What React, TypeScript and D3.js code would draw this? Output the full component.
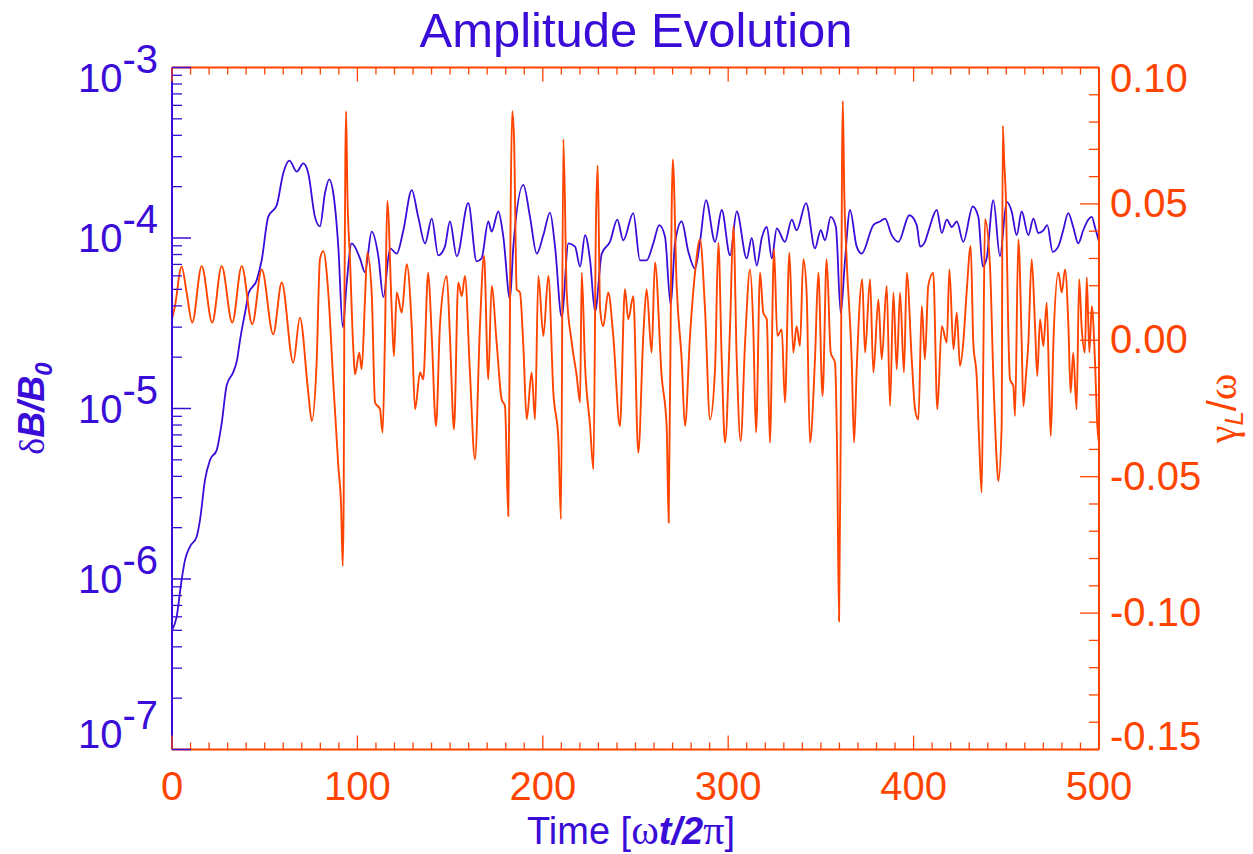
import React, { useEffect, useRef } from 'react';
import * as d3 from 'd3';

// blue curve: dB/B0 (left, log axis)
const timeB = [0, 2.5, 5.2, 7.0, 9.7, 13.3, 15.1, 17.8, 20.5, 24.1,
  26.8, 29.5, 33.1, 35.1, 36.7, 40.3, 41.2, 45.7, 48.4, 51.9,
  56.5, 60.0, 63.3, 67.3, 70.8, 73.5, 77.1, 79.8, 82.5, 84.8,
  87.0, 89.7, 92.1, 94.2, 96.9, 101.4, 104.1, 107.7, 111.3, 114.0,
  117.6, 121.2, 124.8, 129.3, 132.8, 136.5, 140.1, 143.6, 147.2, 149.9,
  153.6, 159.8, 164.3, 167.0, 170.6, 172.4, 176.0, 178.7, 182.3, 184.1,
  189.5, 193.1, 196.7, 200.3, 203.9, 206.6, 210.2, 213.8, 217.4, 220.1,
  222.8, 225.5, 228.2, 231.8, 236.2, 240.2, 243.4, 248.8, 252.4, 256.0,
  259.6, 262.8, 265.9, 269.0, 271.3, 274.9, 278.5, 282.1, 284.8, 288.0,
  292.9, 296.5, 301.0, 304.6, 310.0, 312.7, 315.4, 318.1, 320.8, 323.5,
  326.2, 330.6, 334.3, 336.9, 342.0, 346.8, 349.9, 352.2, 355.3, 358.1,
  360.7, 363.0, 365.7, 369.3, 372.0, 378.3, 381.9, 384.6, 388.2, 391.8,
  397.7, 401.7, 403.5, 406.1, 407.9, 412.5, 415.2, 417.9, 420.6, 423.3,
  426.8, 431.9, 434.9, 437.3, 439.4, 443.0, 446.6, 450.2, 452.9, 455.6,
  458.3, 461.9, 464.6, 467.3, 470.0, 472.1, 475.0, 478.0, 480.7, 483.4,
  486.1, 488.8, 491.5, 494.2, 496.1, 497.8, 500];

const deltaB = [5.0e-7, 6.0e-7, 9.9e-7, 1.29e-6, 1.55e-6, 1.77e-6, 2.22e-6, 3.81e-6, 4.99e-6, 5.7e-6,
  8.2e-6, 1.37e-5, 1.64e-5, 1.93e-5, 2.52e-5, 4.13e-5, 4.72e-5, 5.66e-5, 7.43e-5, 1.33e-4,
  1.56e-4, 2.40e-4, 2.84e-4, 2.45e-4, 2.74e-4, 2.40e-4, 1.33e-4, 1.17e-4, 1.83e-4, 2.21e-4,
  1.83e-4, 8.9e-5, 3.0e-5, 5.4e-5, 9.3e-5, 7.6e-5, 6.3e-5, 1.09e-4, 7.8e-5, 4.5e-5,
  8.7e-5, 8.1e-5, 1.11e-4, 1.91e-4, 1.33e-4, 9.3e-5, 1.30e-4, 7.9e-5, 8.9e-5, 1.25e-4,
  7.8e-5, 1.60e-4, 7.3e-5, 7.6e-5, 1.25e-4, 1.09e-4, 1.43e-4, 1.02e-4, 4.4e-5, 8.9e-5,
  2.05e-4, 1.33e-4, 8.1e-5, 1.04e-4, 1.41e-4, 8.9e-5, 3.45e-5, 9.3e-5, 8.9e-5, 6.8e-5,
  1.04e-4, 7.4e-5, 3.7e-5, 8.1e-5, 9.5e-5, 1.28e-4, 9.7e-5, 1.40e-4, 7.4e-5, 7.4e-5,
  9.3e-5, 1.19e-4, 1.02e-4, 4.05e-5, 9.3e-5, 1.25e-4, 8.3e-5, 6.6e-5, 9.5e-5, 1.67e-4,
  9.5e-5, 1.46e-4, 7.9e-5, 1.43e-4, 7.6e-5, 1.0e-4, 6.9e-5, 1.0e-4, 1.16e-4, 7.6e-5,
  1.14e-4, 9.5e-5, 1.28e-4, 1.11e-4, 1.60e-4, 8.7e-5, 1.11e-4, 9.7e-5, 1.33e-4, 1.16e-4,
  3.62e-5, 7.4e-5, 1.46e-4, 8.9e-5, 8.1e-5, 1.19e-4, 1.25e-4, 1.30e-4, 1.04e-4, 9.5e-5,
  1.36e-4, 1.19e-4, 8.9e-5, 9.5e-5, 1.09e-4, 1.46e-4, 1.07e-4, 1.28e-4, 1.16e-4, 1.25e-4,
  9.5e-5, 1.53e-4, 1.33e-4, 6.8e-5, 7.6e-5, 1.67e-4, 7.8e-5, 1.63e-4, 1.43e-4, 1.04e-4,
  1.43e-4, 1.04e-4, 1.30e-4, 1.07e-4, 1.11e-4, 1.19e-4, 8.3e-5, 8.9e-5, 1.11e-4, 1.40e-4,
  1.16e-4, 9.3e-5, 1.11e-4, 1.28e-4, 1.33e-4, 1.16e-4, 9.5e-5];

// orange curve: gamma_L/omega (right, linear axis)
const timeG = [0, 1.6, 5.2, 7.9, 10.9, 16.0, 21.7, 26.8, 32.5, 37.6,
  43.3, 48.4, 54.6, 59.2, 65.4, 69.0, 73.5, 75.4, 78.0, 79.8,
  81.6, 84.3, 87.0, 89.7, 91.2, 92.1, 92.6, 92.9, 93.5, 93.9,
  94.6, 96.0, 97.8, 98.7, 101.0, 102.3, 104.1, 105.3, 107.7, 109.5,
  112.2, 113.6, 114.9, 116.1, 118.5, 119.7, 121.2, 123.9, 126.6, 129.3,
  131.1, 133.8, 135.5, 138.2, 140.1, 142.4, 144.6, 148.2, 149.9, 152.1,
  154.4, 156.3, 158.0, 160.7, 163.4, 166.1, 168.3, 170.6, 172.4, 175.1,
  177.8, 179.6, 181.4, 182.7, 183.5, 184.5, 185.9, 187.7, 189.5, 191.3,
  194.0, 195.8, 197.6, 200.3, 203.0, 205.7, 208.4, 209.8, 211.1, 212.9,
  215.6, 218.3, 220.1, 221.0, 222.8, 225.5, 227.3, 228.7, 229.6, 230.9,
  232.6, 235.3, 238.0, 241.6, 244.3, 246.1, 248.8, 251.5, 254.2, 256.0,
  258.7, 260.5, 264.1, 266.8, 267.9, 269.5, 270.1, 272.2, 274.9, 276.7,
  279.4, 282.1, 284.8, 287.5, 290.2, 292.9, 294.7, 296.5, 298.3, 301.0,
  302.8, 304.6, 306.7, 309.1, 311.8, 313.5, 315.0, 317.2, 318.9, 320.8,
  322.5, 324.7, 326.5, 328.9, 330.6, 333.0, 335.1, 336.9, 338.7, 340.5,
  342.3, 344.1, 346.8, 348.6, 350.9, 353.1, 355.3, 357.6, 358.8, 359.8,
  360.7, 361.4, 361.8, 362.6, 363.9, 366.6, 367.9, 369.3, 372.3, 373.8,
  376.5, 378.3, 381.0, 382.8, 385.5, 387.3, 389.1, 390.9, 392.7, 394.8,
  396.3, 399.0, 400.8, 402.6, 404.4, 406.1, 407.9, 410.6, 412.8, 415.2,
  417.9, 419.3, 421.5, 423.3, 425.0, 426.8, 428.6, 430.8, 432.2, 434.0,
  435.4, 436.7, 437.6, 438.5, 441.2, 443.0, 444.8, 445.7, 447.5, 448.1,
  448.8, 449.8, 451.1, 452.0, 453.8, 454.7, 456.5, 458.3, 459.2, 460.6,
  461.9, 463.7, 465.5, 466.7, 468.2, 470.0, 471.8, 473.2, 474.0, 475.4,
  478.1, 479.9, 481.7, 483.5, 484.7, 486.1, 487.9, 489.3, 490.6, 492.4,
  493.4, 494.8, 496.1, 497.8, 499.1, 500];

const gammaL = [0.0077, 0.0126, 0.0270, 0.0175, 0.0065, 0.0272, 0.0065, 0.0272, 0.0065, 0.0272,
  0.0059, 0.0260, 0.0022, 0.0212, -0.0082, 0.0083, -0.0192, -0.0296, -0.0082, 0.0297,
  0.0327, 0.0175, -0.0155, -0.0461, -0.0607, -0.0827, -0.0583, 0.0028, 0.0663, 0.0840,
  0.0541, 0.0297, -0.0033, -0.0125, -0.0045, -0.0106, 0.0150, 0.0321, 0.0175, -0.0228,
  -0.0253, -0.0338, 0.0028, 0.0511, 0.0114, -0.0058, 0.0175, 0.0102, 0.0279, 0.0052,
  -0.0253, -0.0118, -0.0143, 0.0248, 0.0016, -0.0314, 0.0065, 0.0236, 0.0016, -0.0326,
  0.0212, 0.0162, 0.0236, -0.0118, -0.0436, 0.0052, 0.0309, -0.0143, 0.0199, -0.0008,
  -0.0216, -0.0241, -0.0644, 0.0517, 0.0841, 0.0737, 0.0187, 0.0175, -0.0021, -0.0290,
  -0.0118, -0.0290, 0.0236, 0.0016, 0.0236, -0.0192, -0.0363, -0.0656, 0.0737, 0.0175,
  -0.0008, -0.0131, -0.0228, 0.0248, -0.0094, -0.0314, -0.0473, 0.0444, 0.0641, 0.0114,
  0.0052, 0.0175, 0.0016, -0.0314, 0.0187, 0.0077, 0.0162, -0.0412, 0.0016, 0.0187,
  -0.0045, 0.0285, -0.0131, -0.0314, -0.0668, 0.0480, 0.0663, 0.0199, -0.0070, -0.0314,
  0.0016, 0.0248, 0.0370, 0.0114, -0.0290, -0.0106, 0.0358, -0.0070, -0.0375, 0.0052,
  0.0419, -0.0070, -0.0369, -0.0008, 0.0260, 0.0052, -0.0338, 0.0248, 0.0102, 0.0077,
  -0.0375, 0.0334, 0.0016, 0.0040, -0.0228, 0.0321, -0.0045, 0.0052, -0.0021, 0.0297,
  0.0175, -0.0375, -0.0070, 0.0248, -0.0204, 0.0297, -0.0045, -0.0082, -0.0436, -0.1030,
  -0.0314, 0.0663, 0.0877, 0.0541, 0.0297, -0.0070, -0.0375, -0.0106, 0.0224, -0.0045,
  0.0224, -0.0118, 0.0150, -0.0070, 0.0199, -0.0241, 0.0175, -0.0106, 0.0175, -0.0118,
  0.0248, -0.0070, -0.0253, -0.0290, 0.0126, -0.0070, 0.0199, 0.0248, -0.0253, 0.0052,
  -0.0008, 0.0260, -0.0033, 0.0102, -0.0094, -0.0008, 0.0175, 0.0346, -0.0008, -0.0131,
  -0.0375, -0.0558, -0.0070, 0.0444, 0.0272, -0.0131, -0.0436, -0.0516, -0.0314, 0.0786,
  0.0663, 0.0517, 0.0028, -0.0143, -0.0168, -0.0277, 0.0370, -0.0008, -0.0241, -0.0131,
  -0.0008, 0.0297, 0.0052, -0.0131, 0.0077, -0.0021, 0.0138, -0.0192, -0.0351, -0.0008,
  0.0248, 0.0175, 0.0260, 0.0052, -0.0192, -0.0045, -0.0253, 0.0224, 0.0052, -0.0045,
  0.0230, -0.0045, 0.0126, -0.0070, -0.0314, -0.0375];

const xTicks = [0, 100, 200, 300, 400, 500];
const decadeExps = [-3, -4, -5, -6, -7];
const rightTicks = [0.10, 0.05, 0.00, -0.05, -0.10, -0.15];

const BLUE = '#3a0cd8';
const ORANGE = '#ff4400';
const SANS = 'Liberation Sans, Arial, Helvetica, sans-serif';
const SERIF = 'Liberation Serif, Times New Roman, serif';

const App = () => {
  const ref = useRef(null);

  useEffect(() => {
    document.body.style.margin = '0';
    d3.select(ref.current).selectAll('*').remove();

    const width = 1253;
    const height = 854;
    const margin = { top: 67.5, right: 154, bottom: 104.5, left: 172 };
    const x0 = margin.left;
    const x1 = width - margin.right;
    const y0 = margin.top;
    const y1 = height - margin.bottom;

    const svg = d3.select(ref.current)
      .append('svg')
      .attr('width', width)
      .attr('height', height)
      .style('display', 'block')
      .style('background', '#fff');

    // Scales
    const x = d3.scaleLinear().domain([0, 500]).range([x0, x1]);
    const yL = d3.scaleLog().domain([1e-7, 1e-3]).range([y1, y0]);
    const yR = d3.scaleLinear().domain([-0.15, 0.10]).range([y1, y0]);

    // Data lines
    const blue = timeB.map((t, i) => [t, deltaB[i]]);
    const orange = timeG.map((t, i) => [t, gammaL[i]]);

    svg.append('path')
      .datum(blue)
      .attr('fill', 'none')
      .attr('stroke', BLUE)
      .attr('stroke-width', 1.8)
      .attr('d', d3.line().x(d => x(d[0])).y(d => yL(d[1])).curve(d3.curveMonotoneX));

    svg.append('path')
      .datum(orange)
      .attr('fill', 'none')
      .attr('stroke', ORANGE)
      .attr('stroke-width', 1.9)
      .attr('d', d3.line().x(d => x(d[0])).y(d => yR(d[1])).curve(d3.curveMonotoneX));

    // Frame
    svg.append('line').attr('x1', x0).attr('x2', x0).attr('y1', y0).attr('y2', y1)
      .attr('stroke', BLUE).attr('stroke-width', 2);
    svg.append('line').attr('x1', x1).attr('x2', x1).attr('y1', y0).attr('y2', y1)
      .attr('stroke', ORANGE).attr('stroke-width', 2);
    svg.append('line').attr('x1', x0).attr('x2', x1).attr('y1', y0).attr('y2', y0)
      .attr('stroke', ORANGE).attr('stroke-width', 2);
    svg.append('line').attr('x1', x0).attr('x2', x1).attr('y1', y1).attr('y2', y1)
      .attr('stroke', ORANGE).attr('stroke-width', 2);

    // X ticks (top and bottom), pointing inward
    const xMinor = d3.range(0, 501, 10);
    const tickLen = t => (t % 100 === 0 ? 14 : 7);
    svg.append('g').selectAll('line')
      .data(xMinor).enter()
      .append('line')
      .attr('x1', d => x(d)).attr('x2', d => x(d))
      .attr('y1', y1).attr('y2', d => y1 - tickLen(d))
      .attr('stroke', ORANGE).attr('stroke-width', 1.3);
    svg.append('g').selectAll('line')
      .data(xMinor).enter()
      .append('line')
      .attr('x1', d => x(d)).attr('x2', d => x(d))
      .attr('y1', y0).attr('y2', d => y0 + tickLen(d))
      .attr('stroke', ORANGE).attr('stroke-width', 1.3);

    // Left log ticks
    const logMinor = [];
    [-7, -6, -5, -4].forEach(e => {
      d3.range(2, 10).forEach(m => logMinor.push(m * Math.pow(10, e)));
    });
    svg.append('g').selectAll('line')
      .data(logMinor).enter()
      .append('line')
      .attr('x1', x0).attr('x2', x0 + 10)
      .attr('y1', d => yL(d)).attr('y2', d => yL(d))
      .attr('stroke', BLUE).attr('stroke-width', 1.3);
    svg.append('g').selectAll('line')
      .data(decadeExps).enter()
      .append('line')
      .attr('x1', x0).attr('x2', x0 + 19)
      .attr('y1', d => yL(Math.pow(10, d))).attr('y2', d => yL(Math.pow(10, d)))
      .attr('stroke', BLUE).attr('stroke-width', 1.5);

    // Right ticks
    const rMinor = d3.range(-15, 11).map(i => i / 100);
    svg.append('g').selectAll('line')
      .data(rMinor).enter()
      .append('line')
      .attr('x1', x1).attr('x2', d => x1 - (Math.round(d * 100) % 5 === 0 ? 19 : 10))
      .attr('y1', d => yR(d)).attr('y2', d => yR(d))
      .attr('stroke', ORANGE).attr('stroke-width', 1.3);

    // Bottom labels
    svg.append('g').selectAll('text')
      .data(xTicks).enter()
      .append('text')
      .attr('x', d => x(d))
      .attr('y', 800)
      .attr('text-anchor', 'middle')
      .attr('font-family', SANS)
      .attr('font-size', 40)
      .attr('fill', ORANGE)
      .text(d => d);

    // Left labels  10^-n
    const leftShift = e => (e === -3 ? 10.5 : e === -7 ? -15.5 : 0);
    const leftLabels = svg.append('g').selectAll('text')
      .data(decadeExps).enter()
      .append('text')
      .attr('x', 158)
      .attr('y', d => yL(Math.pow(10, d)) + 14 + leftShift(d))
      .attr('text-anchor', 'end')
      .attr('font-family', SANS)
      .attr('font-size', 40)
      .attr('fill', BLUE);
    leftLabels.append('tspan').text('10');
    leftLabels.append('tspan').attr('dy', -19).text(d => `${d}`);

    // Right labels
    const rightShift = v => (v === 0.10 ? 11 : v === -0.15 ? -13 : 0);
    svg.append('g').selectAll('text')
      .data(rightTicks).enter()
      .append('text')
      .attr('x', 1110)
      .attr('y', d => yR(d) + 13 + rightShift(d))
      .attr('font-family', SANS)
      .attr('font-size', 40)
      .attr('fill', ORANGE)
      .text(d => d.toFixed(2));

    // Title
    svg.append('text')
      .attr('x', 636)
      .attr('y', 47)
      .attr('text-anchor', 'middle')
      .attr('font-family', SANS)
      .attr('font-size', 49)
      .attr('fill', BLUE)
      .text('Amplitude Evolution');

    // X axis title
    const xt = svg.append('text')
      .attr('x', 631)
      .attr('y', 844)
      .attr('text-anchor', 'middle')
      .attr('font-family', SANS)
      .attr('font-size', 38)
      .attr('fill', BLUE);
    xt.append('tspan').text('Time [');
    xt.append('tspan').attr('font-family', SERIF).attr('font-size', 42).text('ω');
    xt.append('tspan').attr('font-weight', 'bold').attr('font-style', 'italic').text('t/2');
    xt.append('tspan').attr('font-family', SERIF).attr('font-size', 42).text('π');
    xt.append('tspan').text(']');

    // Left axis title
    const yt = svg.append('text')
      .attr('transform', `translate(44, ${(y0 + y1) / 2}) rotate(-90)`)
      .attr('text-anchor', 'middle')
      .attr('font-family', SANS)
      .attr('font-size', 36)
      .attr('fill', BLUE);
    yt.append('tspan').attr('font-family', SERIF).text('δ');
    yt.append('tspan').attr('font-weight', 'bold').attr('font-style', 'italic').text('B/B');
    yt.append('tspan').attr('font-weight', 'bold').attr('font-style', 'italic')
      .attr('font-size', 24).attr('dy', 8).text('0');

    // Right axis title
    const rt = svg.append('text')
      .attr('transform', `translate(1236, ${(y0 + y1) / 2}) rotate(-90)`)
      .attr('text-anchor', 'middle')
      .attr('font-family', SERIF)
      .attr('font-size', 40)
      .attr('fill', ORANGE);
    rt.append('tspan').text('γ');
    rt.append('tspan').attr('font-family', SANS).attr('font-style', 'italic')
      .attr('font-size', 26).attr('dy', 7).text('L');
    rt.append('tspan').attr('font-family', SANS).attr('dy', -7).text('/');
    rt.append('tspan').text('ω');
  }, []);

  return (
    <div id='amplitudeChart' ref={ref}></div>
  );
};

export default App;
